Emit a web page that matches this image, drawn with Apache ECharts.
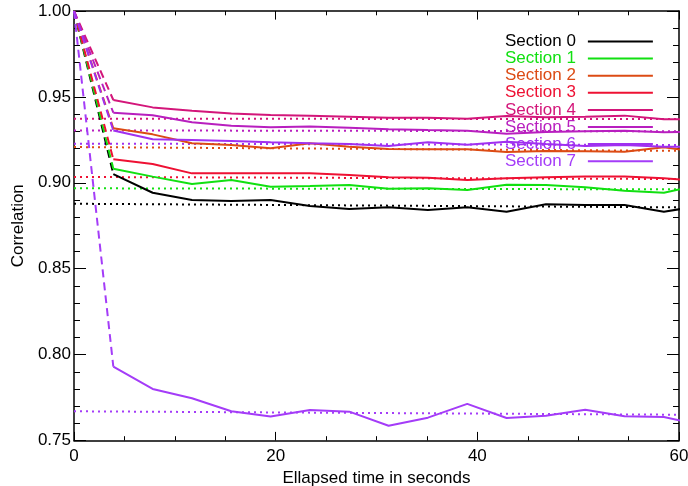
<!DOCTYPE html>
<html><head><meta charset="utf-8">
<script src="https://cdn.jsdelivr.net/npm/echarts@6/dist/echarts.min.js"></script>
<style>html,body{margin:0;padding:0;background:#fff}#c{width:688px;height:486px}</style>
</head><body><div id="c"></div>
<script>
const sectionNames = ['Section 0','Section 1','Section 2','Section 3','Section 4','Section 5','Section 6','Section 7'];
const sectionColors = ['#000000','#11e011','#dc4b14','#ee1133','#d3167a','#b81fbf','#a030f0','#a43cf8'];

// time of each sample (seconds)
const times = [3.9, 7.8, 11.7, 15.6, 19.5, 23.4, 27.3, 31.2, 35.1, 39.0, 42.9, 46.8, 50.7, 54.6, 58.5, 62.4];
const startTime = 0;
const startValue = 1.0;

const section0 = [0.9051,0.8942,0.8900,0.8894,0.8900,0.8865,0.8847,0.8857,0.8842,0.8857,0.8832,0.8875,0.8871,0.8871,0.8832,0.8868];
const section1 = [0.9082,0.9036,0.8993,0.9016,0.8977,0.8981,0.8987,0.8966,0.8968,0.8958,0.8989,0.8987,0.8974,0.8954,0.8942,0.8993];
const section2 = [0.9317,0.9282,0.9230,0.9220,0.9201,0.9230,0.9210,0.9197,0.9195,0.9195,0.9179,0.9185,0.9183,0.9181,0.9207,0.9176];
const section3 = [0.9137,0.9109,0.9055,0.9055,0.9055,0.9055,0.9045,0.9032,0.9030,0.9016,0.9026,0.9032,0.9036,0.9036,0.9026,0.9011];
const section4 = [0.9482,0.9439,0.9420,0.9404,0.9395,0.9391,0.9385,0.9379,0.9379,0.9373,0.9389,0.9381,0.9385,0.9391,0.9370,0.9370];
const section5 = [0.9408,0.9393,0.9352,0.9332,0.9323,0.9327,0.9321,0.9312,0.9307,0.9303,0.9286,0.9296,0.9300,0.9303,0.9294,0.9298];
const section6 = [0.9305,0.9253,0.9249,0.9243,0.9236,0.9230,0.9226,0.9214,0.9236,0.9222,0.9239,0.9226,0.9214,0.9220,0.9210,0.9210];
const section7 = [0.7930,0.7800,0.7746,0.7670,0.7640,0.7678,0.7668,0.7586,0.7633,0.7713,0.7631,0.7644,0.7679,0.7641,0.7637,0.7586];

// fitted (dotted) lines: values at fitTimes
const fitTimes = [0, 60];
const fit0 = [0.8878, 0.8857];
const fit1 = [0.8968, 0.8962];
const fit2 = [0.9208, 0.9186];
const fit3 = [0.9034, 0.9022];
const fit4 = [0.9373, 0.9371];
const fit5 = [0.9305, 0.9300];
const fit6 = [0.9228, 0.9220];
const fit7 = [0.7670, 0.7650];

const xTicks = {min: 0, max: 60, interval: 20};
const yTicks = {min: 0.75, max: 1.00, interval: 0.05};

const sections = [section0,section1,section2,section3,section4,section5,section6,section7];
const fits = [fit0,fit1,fit2,fit3,fit4,fit5,fit6,fit7];
const FONT = 'Liberation Sans, Arial, Helvetica, sans-serif';

const series = [];
sections.forEach((vals, i) => {
  const c = sectionColors[i];
  series.push({
    name: sectionNames[i], type: 'line', symbol: 'none', z: 2,
    itemStyle: {color: c},
    lineStyle: {color: c, width: 2, type: [2, 4]},
    data: fitTimes.map((t, j) => [t, fits[i][j]])
  });
});
sections.forEach((vals, i) => {
  const c = sectionColors[i];
  series.push({
    name: sectionNames[i], type: 'line', symbol: 'none', z: 3,
    itemStyle: {color: c},
    lineStyle: {color: c, width: 2, type: [8, 5]},
    data: [[startTime, startValue], [times[0], vals[0]]]
  });
});
sections.forEach((vals, i) => {
  const c = sectionColors[i];
  series.push({
    name: sectionNames[i], type: 'line', symbol: 'none', z: 4,
    itemStyle: {color: c},
    lineStyle: {color: c, width: 2},
    data: times.map((t, j) => [t, vals[j]])
  });
});

function xAxisDef(pos, main) {
  return {
    type: 'value', position: pos, min: xTicks.min, max: xTicks.max, interval: xTicks.interval,
    axisLine: {show: true, onZero: false, lineStyle: {color: '#000', width: 1.5}},
    axisTick: {show: true, inside: true, length: 8.6, lineStyle: {color: '#000', width: 1}},
    minorTick: {show: true, splitNumber: 4, length: 4.3, lineStyle: {color: '#000', width: 1}},
    splitLine: {show: false}, minorSplitLine: {show: false},
    axisLabel: {show: main, fontSize: 17, color: '#000', margin: 7, fontFamily: FONT},
    name: main ? 'Ellapsed time in seconds' : '', nameLocation: 'middle', nameGap: 21,
    nameTextStyle: {fontSize: 17, color: '#000', fontFamily: FONT}
  };
}
function yAxisDef(pos, main) {
  return {
    type: 'value', position: pos, min: yTicks.min, max: yTicks.max, interval: yTicks.interval,
    axisLine: {show: true, onZero: false, lineStyle: {color: '#000', width: 1.5}},
    axisTick: {show: true, inside: true, length: 12, lineStyle: {color: '#000', width: 1}},
    minorTick: {show: true, splitNumber: 5, length: 6, lineStyle: {color: '#000', width: 1}},
    splitLine: {show: false}, minorSplitLine: {show: false},
    axisLabel: {show: main, fontSize: 17, color: '#000', margin: 3, fontFamily: FONT,
      formatter: v => v.toFixed(2)},
    name: main ? 'Correlation' : '', nameLocation: 'middle', nameGap: 42,
    nameTextStyle: {fontSize: 17, color: '#000', fontFamily: FONT}
  };
}

const chart = echarts.init(document.getElementById('c'), null, {renderer: 'canvas'});
chart.setOption({
  animation: false,
  backgroundColor: '#fff',
  grid: {left: 74, right: 9, top: 11, bottom: 45.5, containLabel: false, outerBoundsMode: 'none'},
  xAxis: [xAxisDef('bottom', true), xAxisDef('top', false)],
  yAxis: [yAxisDef('left', true), yAxisDef('right', false)],
  legend: {
    orient: 'vertical', left: 505, top: 33, padding: 0,
    itemWidth: 65, itemHeight: 2, itemGap: 0.1, align: 'right', icon: 'rect',
    selectedMode: false,
    textStyle: {fontSize: 17, fontFamily: FONT, padding: [0, 7, 0, 0]},
    data: sectionNames.map((n, i) => ({name: n, textStyle: {color: sectionColors[i]}}))
  },
  series: series
});
</script>
</body></html>
